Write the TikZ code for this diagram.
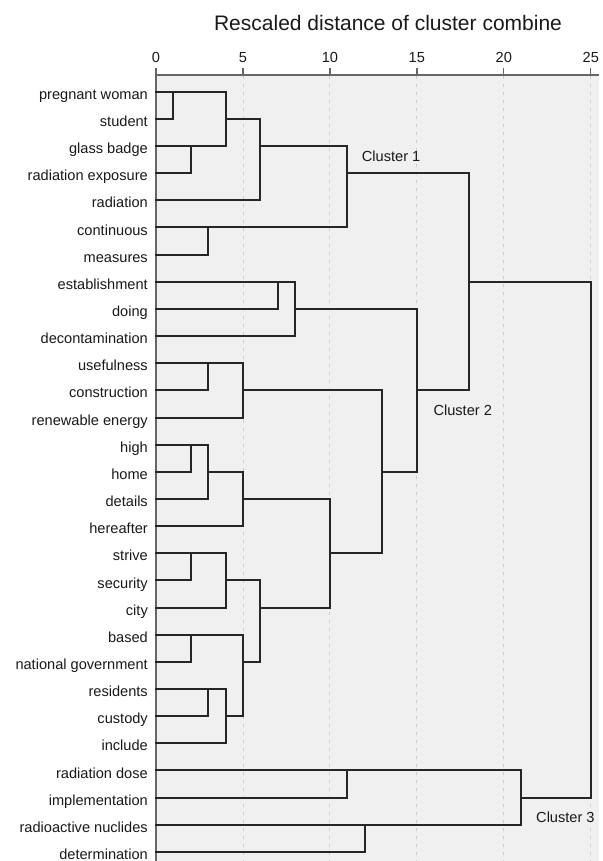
\documentclass[tikz,border=0pt]{standalone}
\usepackage{fontspec}
\setmainfont{Liberation Sans}
\begin{document}
\begin{tikzpicture}[x=1pt,y=-1pt,
  dline/.style={line width=2pt, draw=black!85, line cap=rect},
  axisline/.style={line width=1.3pt, draw=black!60},
  gridline/.style={line width=0.9pt, draw=black!20, dash pattern=on 3pt off 5pt},
  lab/.style={font=\fontsize{14.6}{16}\selectfont, inner sep=0pt, anchor=base east, text=black!90},
  ticklab/.style={font=\fontsize{14.6}{16}\selectfont, inner sep=0pt, anchor=base, text=black!90},
  clab/.style={font=\fontsize{14.6}{16}\selectfont, inner sep=0pt, anchor=base west, text=black!90},
  titlelab/.style={font=\fontsize{21}{24}\selectfont, inner sep=0pt, anchor=base, text=black!90}]
\useasboundingbox (0,0) rectangle (602,861);
% panel
\fill[black!6] (156,75) rectangle (599,861);
% grid lines
\foreach \k in {5,10,...,25}
  \draw[gridline] ({156+17.39*\k},76) -- ({156+17.39*\k},861);
% axes
\draw[axisline] (156,75) -- (599,75);
\draw[axisline] (156,75) -- (156,861);
\foreach \k in {0,5,...,25} {
  \draw[axisline] ({156+17.39*\k},68) -- ({156+17.39*\k},75);
  \node[ticklab] (tk\k) at ({156+17.39*\k},62.3) {\k};
}
% title
\node[titlelab] (title) at (388,31) {Rescaled distance of cluster combine};
% row labels
\foreach \t [count=\i from 0] in {pregnant woman, student, glass badge, radiation exposure, radiation, continuous, measures, establishment, doing, decontamination, usefulness, construction, renewable energy, high, home, details, hereafter, strive, security, city, based, national government, residents, custody, include, radiation dose, implementation, radioactive nuclides, determination}
  \node[lab] (w\i) at (148,{99.3+27.15*\i}) {\t};
% dendrogram
\begin{scope}[shift={(156,91.7)}, x=17.39pt, y=-27.15pt]
  \foreach \r/\e in {0/1,1/1,2/2,3/2,4/6,5/3,6/3,7/7,8/7,9/8,10/3,11/3,12/5,13/2,14/2,15/3,16/5,17/2,18/2,19/4,20/2,21/2,22/3,23/3,24/4,25/11,26/11,27/12,28/12}
    \draw[dline] (0,\r) -- (\e,\r);
  \foreach \x/\a/\b/\c/\n in {1/0/1/0/4, 2/2/3/2/4, 4/0/2/1/6, 6/1/4/2/11, 3/5/6/5/11, 11/2/5/3/18,
      7/7/8/7/8, 8/7/9/8/15, 3/10/11/10/5, 5/10/12/11/13, 2/13/14/13/3, 3/13/15/14/5, 5/14/16/15/10,
      2/17/18/17/4, 4/17/19/18/6, 2/20/21/20/5, 3/22/23/22/4, 4/22/24/23/5, 5/20/23/21/6, 6/18/21/19/10,
      10/15/19/17/13, 13/11/17/14/15, 15/8/14/11/18, 18/3/11/7/25, 11/25/26/25/21, 12/27/28/27/21, 21/25/27/26/25} {
    \draw[dline] (\x,\a) -- (\x,\b);
    \draw[dline] (\x,\c) -- (\n,\c);
  }
  \draw[dline] (25,7) -- (25,26);
\end{scope}
% cluster labels
\node[clab] (c1) at (361.7,161.7) {Cluster 1};
\node[clab] (c2) at (433.3,415.7) {Cluster 2};
\node[clab] (c3) at (536,822.3) {Cluster 3};
\end{tikzpicture}
\end{document}
